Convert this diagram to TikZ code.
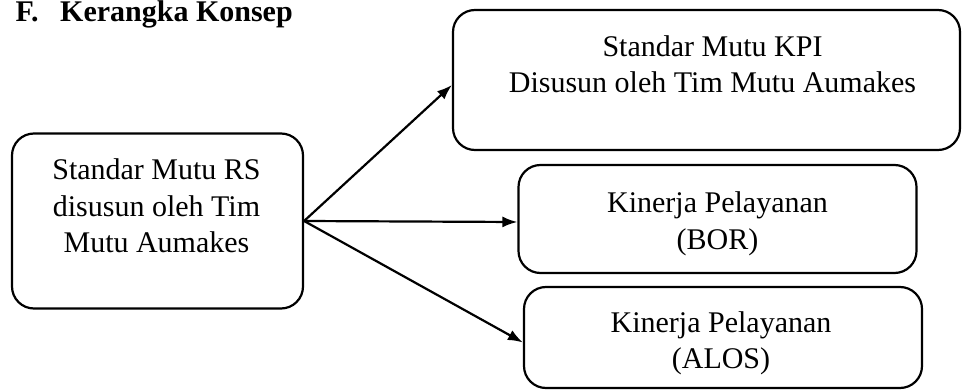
\documentclass[tikz,border=0pt]{standalone}
\usepackage{fontspec}
\setmainfont{Liberation Serif}
\usetikzlibrary{arrows.meta}
\tikzset{
    konsep/.style={draw, rounded corners=22pt, line width=2.2pt, inner sep=0pt},
    teks/.style={align=center, font=\fontsize{30}{36.5}\selectfont, inner sep=0pt}
}
\begin{document}
\begin{tikzpicture}[x=1pt, y=-1pt]
            \useasboundingbox (0,0) rectangle (968,390);
            \node[anchor=base west, font=\fontsize{30}{36}\selectfont\bfseries] (judul) at (12,22) {F.\hspace{0.72em}Kerangka Konsep};
            % kotak
            \node[konsep, minimum width=291pt, minimum height=175pt] (rs) at (157.5,221) {};
            \node[konsep, minimum width=507pt, minimum height=140pt] (kpi) at (706.5,80) {};
            \node[konsep, minimum width=398pt, minimum height=108pt] (bor) at (717.5,219) {};
            \node[konsep, minimum width=398pt, minimum height=101pt] (alos) at (723,337.5) {};
            % isi kotak
            \node[teks] (rsteks) at ([shift={(-1,-15)}]rs.center) {Standar Mutu RS\\disusun oleh Tim\\Mutu Aumakes};
            \node[teks] (kpiteks) at ([shift={(6,-16)}]kpi.center) {Standar Mutu KPI\\Disusun oleh Tim Mutu Aumakes};
            \node[teks] (borteks) at ([shift={(0,5)}]bor.center) {Kinerja Pelayanan\\(BOR)};
            \node[teks] (alosteks) at ([shift={(-2,6)}]alos.center) {Kinerja Pelayanan\\(ALOS)};
            \foreach \tujuan/\geser in {kpi/5, bor/3, alos/5}
                {
                    \draw[-{Latex[length=15pt, width=11pt]}, line width=2.2pt] (rs.east) -- ([yshift=-\geser pt]\tujuan.west);
                }
        \end{tikzpicture}
\end{document}
